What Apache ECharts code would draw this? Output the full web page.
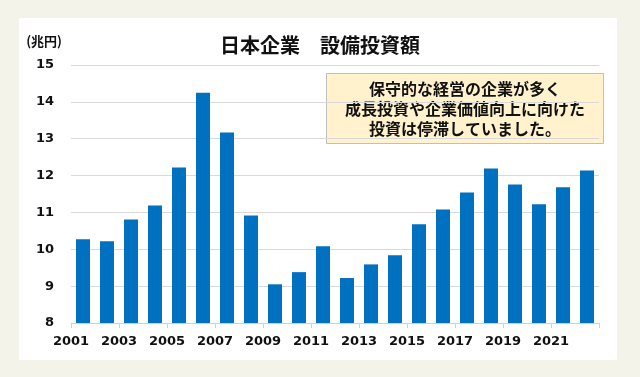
<!DOCTYPE html>
<html>
<head>
<meta charset="utf-8">
<script src="https://cdn.jsdelivr.net/npm/echarts@6/dist/echarts.min.js"></script>
<style>
  html, body { margin: 0; padding: 0; background: #f3f3ea; }
  #panel { position: absolute; left: 19px; top: 18px; width: 598px; height: 342px; background: #fff; }
  #chart { position: absolute; left: 0; top: 0; width: 640px; height: 377px; }
</style>
</head>
<body>
<div id="panel"></div>
<div id="chart"></div>
<script>
// 設備投資額（兆円）
var years = ['2001','2002','2003','2004','2005','2006','2007','2008','2009','2010','2011',
             '2012','2013','2014','2015','2016','2017','2018','2019','2020','2021','2022'];
var invest = [10.27, 10.22, 10.81, 11.19, 12.22, 14.25, 13.17, 10.92, 9.05, 9.38, 10.08,
              9.22, 9.59, 9.84, 10.68, 11.08, 11.54, 12.19, 11.76, 11.22, 11.68, 12.14];
// 目盛ラベルは区切り位置（2年おき）
var tickYears = years.concat(['']);
var note = ['保守的な経営の企業が多く', '成長投資や企業価値向上に向けた', '投資は停滞していました。'];

var chart = echarts.init(document.getElementById('chart'));
var numFont = 'DejaVu Sans';
var jpFont = '"Noto Sans CJK JP", "Noto Sans CJK SC", sans-serif';

var option = {
  backgroundColor: 'transparent',
  animation: false,
  title: {
    text: '日本企業　設備投資額',
    left: 'center',
    top: 30,
    textStyle: { fontFamily: jpFont, fontSize: 20, fontWeight: 'bold', color: '#111' }
  },
  grid: { left: 71, right: 41, top: 65, bottom: 54 },
  xAxis: [
    {
      type: 'category',
      data: years,
      axisLine: { show: false },
      axisTick: { show: false },
      axisLabel: { show: false }
    },
    {
      type: 'category',
      data: tickYears,
      boundaryGap: false,
      position: 'bottom',
      axisLine: { show: true, lineStyle: { color: '#d0d0d0' } },
      axisTick: { show: true, interval: 1, length: 5, lineStyle: { color: '#d0d0d0' } },
      axisLabel: { interval: 1, margin: 12, fontFamily: numFont, fontSize: 13, fontWeight: 'bold', color: '#111' },
      splitLine: { show: false }
    }
  ],
  yAxis: {
    type: 'value',
    min: 8,
    max: 15,
    interval: 1,
    name: '(兆円)',
    nameLocation: 'end',
    nameGap: 17,
    nameTextStyle: { fontFamily: jpFont, fontSize: 13, fontWeight: 'bold', color: '#111', align: 'right', padding: [0, 9, 0, 0] },
    axisLine: { show: false },
    axisTick: { show: false },
    axisLabel: { margin: 17, fontFamily: numFont, fontSize: 13, fontWeight: 'bold', color: '#111' },
    splitLine: { lineStyle: { color: '#d9d9d9' } }
  },
  series: [{
    type: 'bar',
    xAxisIndex: 0,
    data: invest,
    barWidth: 14,
    itemStyle: { color: '#0070c0' }
  }],
  graphic: [{
    type: 'group',
    left: 326,
    top: 73,
    children: [
      {
        type: 'rect',
        shape: { x: 0, y: 0, width: 277, height: 70 },
        style: { fill: '#fff2cc', stroke: '#bfbfbf', lineWidth: 1 }
      },
      {
        type: 'text',
        x: 138.5,
        y: 35,
        style: {
          text: note.join('\n'),
          align: 'center',
          verticalAlign: 'middle',
          lineHeight: 20,
          font: 'bold 16px ' + jpFont,
          fill: '#111'
        }
      }
    ]
  }]
};
chart.setOption(option);
</script>
</body>
</html>
